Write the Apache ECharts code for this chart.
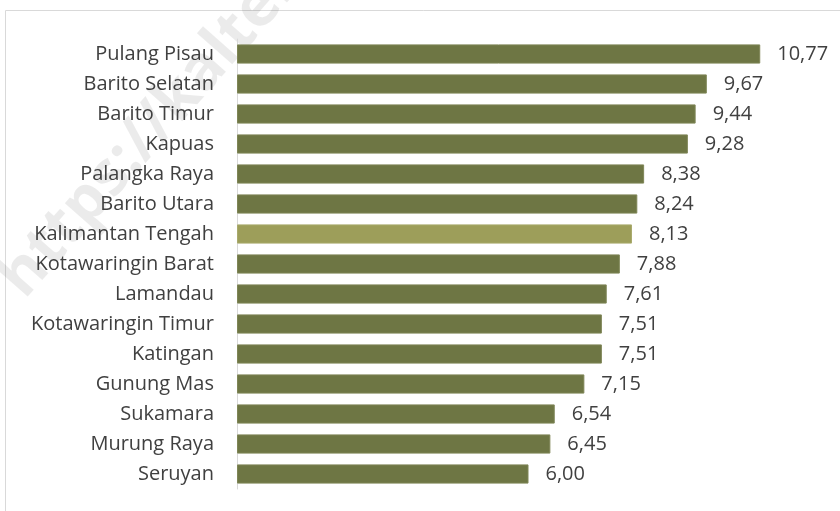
<!DOCTYPE html>
<html>
<head>
<meta charset="utf-8">
<script src="https://cdn.jsdelivr.net/npm/echarts@6/dist/echarts.min.js"></script>
<style>
  html, body { margin: 0; padding: 0; background: #fff; }
  #chart { width: 840px; height: 511px; }
</style>
</head>
<body>
<div id="chart"></div>
<script>
// kabupaten/kota, urut dari atas ke bawah
const regions = [
  'Pulang Pisau', 'Barito Selatan', 'Barito Timur', 'Kapuas', 'Palangka Raya',
  'Barito Utara', 'Kalimantan Tengah', 'Kotawaringin Barat', 'Lamandau',
  'Kotawaringin Timur', 'Katingan', 'Gunung Mas', 'Sukamara', 'Murung Raya', 'Seruyan'
];
const values = [10.77, 9.67, 9.44, 9.28, 8.38, 8.24, 8.13, 7.88, 7.61, 7.51, 7.51, 7.15, 6.54, 6.45, 6.00];
const highlight = 'Kalimantan Tengah';

const fontFam = '"Open Sans", sans-serif';

const chart = echarts.init(document.getElementById('chart'));

chart.setOption({
  animation: false,
  graphic: [
    {
      type: 'rect',
      z: -10,
      shape: { x: 5.5, y: 10.5, width: 900, height: 600 },
      style: { fill: 'none', stroke: '#d9d9d9', lineWidth: 1 }
    },
    {
      type: 'text',
      z: -5,
      x: -12, y: 268,
      rotation: Math.PI * 0.27,
      style: {
        text: 'https://kalteng.bps.go.id',
        font: 'bold 62px "Open Sans", sans-serif',
        fill: 'rgba(0,0,0,0.08)'
      }
    }
  ],
  grid: { left: 237, right: 20, top: 39, bottom: 22 },
  xAxis: {
    type: 'value',
    min: 0,
    max: 12,
    show: false
  },
  yAxis: {
    type: 'category',
    inverse: true,
    data: regions,
    axisLine: { show: true, lineStyle: { color: '#d9d9d9', width: 1 } },
    axisTick: { show: false },
    axisLabel: { color: '#404040', fontSize: 20, fontFamily: fontFam, margin: 23 }
  },
  series: [{
    type: 'bar',
    barCategoryGap: '36%',
    data: values.map((v, i) => ({
      value: v,
      itemStyle: {
        color: regions[i] === highlight ? '#9d9e5a' : '#6e7644',
        borderColor: regions[i] === highlight ? '#a9aa6c' : '#7f8657',
        borderWidth: 1
      }
    })),
    label: {
      show: true,
      position: 'right',
      distance: 17,
      color: '#404040',
      fontSize: 20,
      fontFamily: fontFam,
      formatter: p => p.value.toFixed(2).replace('.', ',')
    }
  }]
});
</script>
</body>
</html>
